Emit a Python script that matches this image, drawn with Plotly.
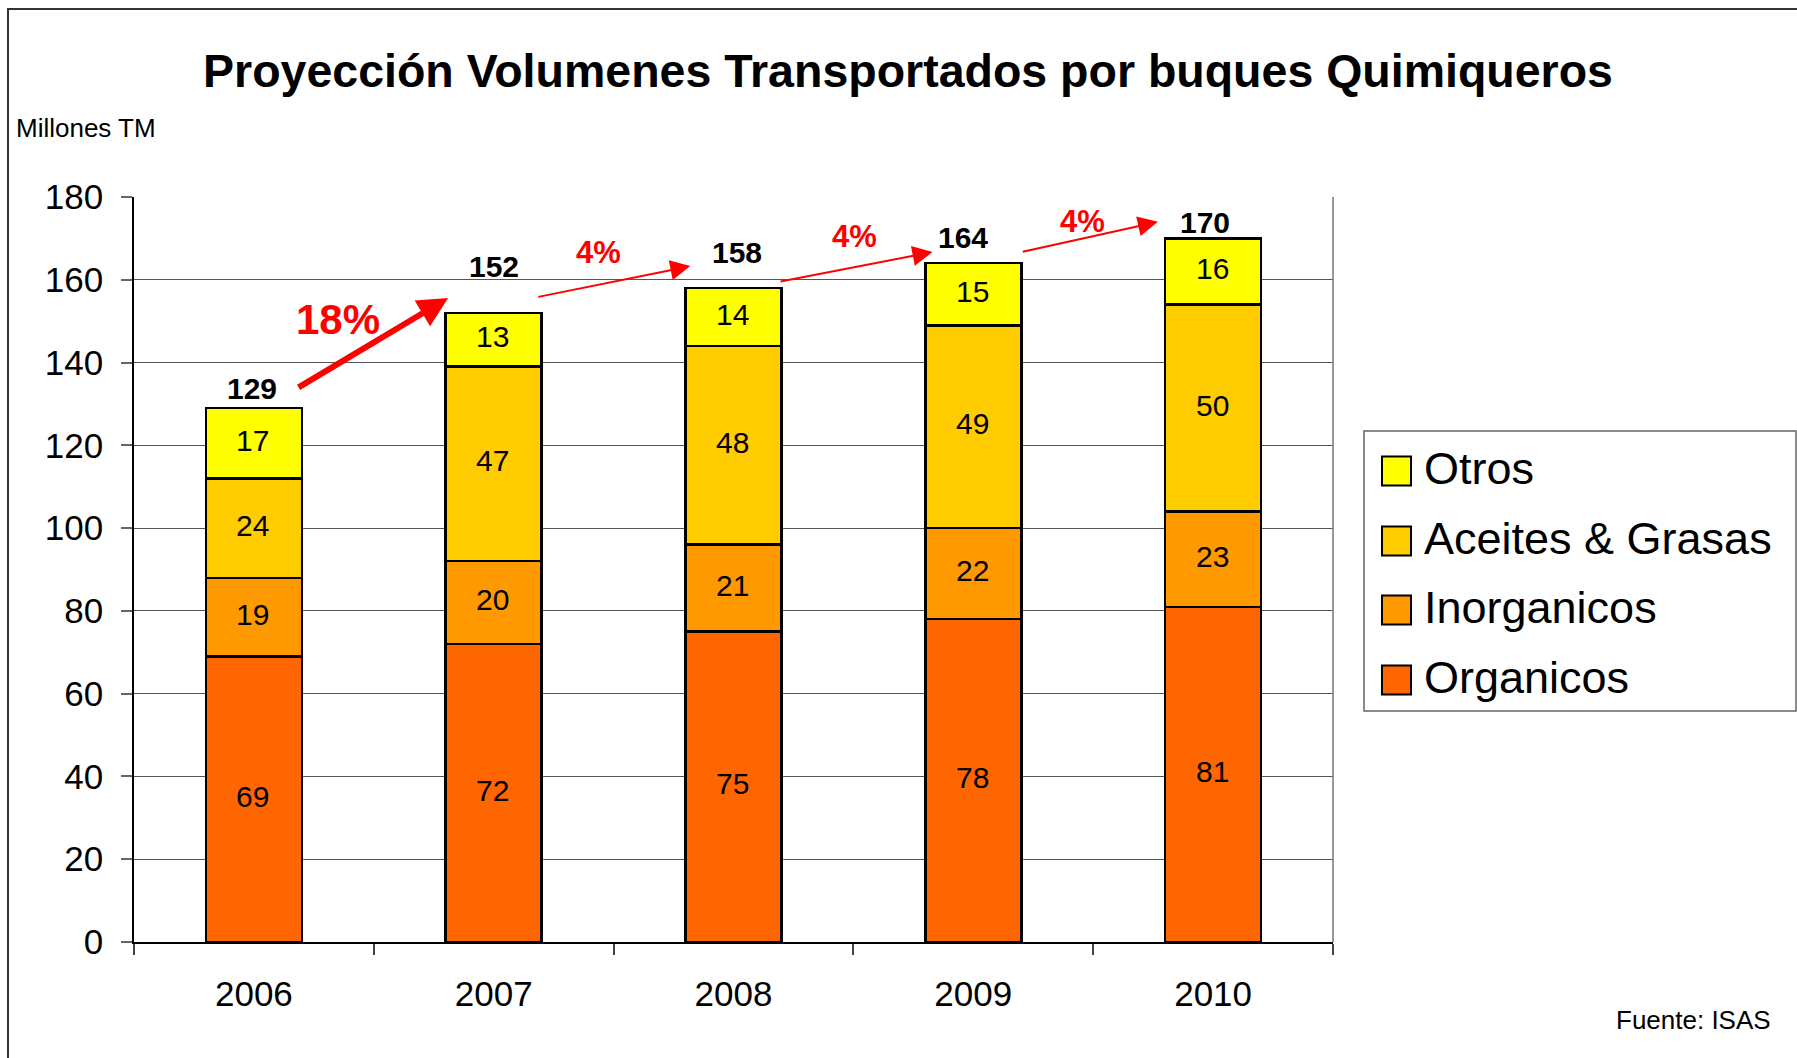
import plotly.graph_objects as go

# ---------------- data ----------------
years = ["2006", "2007", "2008", "2009", "2010"]
organicos = [69, 72, 75, 78, 81]
inorganicos = [19, 20, 21, 22, 23]
aceites = [24, 47, 48, 49, 50]
otros = [17, 13, 14, 15, 16]
totals = [129, 152, 158, 164, 170]
growth_labels = ["18%", "4%", "4%", "4%"]
y_ticks = [0, 20, 40, 60, 80, 100, 120, 140, 160, 180]
series_names = ["Organicos", "Inorganicos", "Aceites & Grasas", "Otros"]
series_values = [organicos, inorganicos, aceites, otros]

# ---------------- styles ----------------
FONT = "Liberation Sans, Arial, sans-serif"
colors = ["#FF6600", "#FF9900", "#FFCC00", "#FFFF00"]

W, H = 1797, 1058
L, R, T, B = 134, 1333, 197, 942   # plot area in pixels


def px(xp):
    return (xp - L) / (R - L)


def py(yp):
    return (B - yp) / (B - T)


fig = go.Figure()
for name, vals, col in zip(series_names, series_values, colors):
    fig.add_trace(go.Bar(
        x=years, y=vals, name=name,
        marker=dict(color=col, line=dict(color="black", width=2.5)),
        showlegend=False, hoverinfo="skip",
    ))

annotations = []
# segment value labels, centred in each stacked segment
base = [0] * len(years)
for vals in series_values:
    for i, v in enumerate(vals):
        annotations.append(dict(
            x=i, y=base[i] + v / 2, xref="x", yref="y", text=str(v), showarrow=False,
            yanchor="middle", xshift=-1, yshift=3,
            font=dict(family=FONT, size=30, color="black")))
        base[i] += v

# totals above bars
tot_xshift = [-2, 0, 3, -10, -8]
tot_yshift = [20, 46, 36, 26, 16]
for i, t in enumerate(totals):
    annotations.append(dict(
        x=i, y=t, xref="x", yref="y", text="<b>%d</b>" % t, showarrow=False,
        xshift=tot_xshift[i], yshift=tot_yshift[i], yanchor="middle",
        font=dict(family=FONT, size=30, color="black")))

# growth arrows
tail_dx = [0.18, 0.18, 0.19, 0.20]
tail_dy = [4.8, 3.8, 1.5, 2.7]
tip_dx = [-0.19, -0.18, -0.17, -0.23]
tip_dy = [3.6, 5.3, 2.7, 4.0]
arrow_w = [6, 2, 2, 2]
arrow_s = [1.0, 2.0, 2.0, 2.0]
lab_xshift = [-35, -15, -1, -7]
lab_yshift = [24, 29, 30, 15]
lab_size = [42, 31, 31, 31]
for i, g in enumerate(growth_labels):
    ax = i + tail_dx[i]
    ay = totals[i] + tail_dy[i]
    tx = i + 1 + tip_dx[i]
    ty = totals[i + 1] + tip_dy[i]
    annotations.append(dict(
        x=tx, y=ty, xref="x", yref="y", ax=ax, ay=ay, axref="x", ayref="y",
        text="", showarrow=True, arrowhead=2, arrowsize=arrow_s[i],
        arrowwidth=arrow_w[i], arrowcolor="#FF0000", standoff=0, startstandoff=0))
    annotations.append(dict(
        x=(ax + tx) / 2, y=(ay + ty) / 2, xref="x", yref="y",
        text="<b>%s</b>" % g, showarrow=False,
        xshift=lab_xshift[i], yshift=lab_yshift[i],
        font=dict(family=FONT, size=lab_size[i], color="#FF0000")))

# axis unit label and source
annotations.append(dict(x=px(14), y=py(128), xref="paper", yref="paper",
                        text="Millones TM", showarrow=False, xanchor="left", yanchor="middle",
                        font=dict(family=FONT, size=26, color="black")))
annotations.append(dict(x=px(1773), y=py(1020), xref="paper", yref="paper",
                        text="Fuente: ISAS", showarrow=False, xanchor="right", yanchor="middle",
                        font=dict(family=FONT, size=26, color="black")))

shapes = []
# outer chart border (left and top visible)
shapes.append(dict(type="rect", xref="paper", yref="paper",
                   x0=px(8), x1=px(2400), y0=py(2000), y1=py(9),
                   line=dict(color="#333333", width=2), fillcolor="rgba(0,0,0,0)"))
# right border of plot area (gray)
shapes.append(dict(type="line", xref="paper", yref="paper",
                   x0=1, x1=1, y0=0, y1=1, line=dict(color="#777777", width=1.5)))

# manual legend
shapes.append(dict(type="rect", xref="paper", yref="paper",
                   x0=px(1364), x1=px(1796), y0=py(711), y1=py(431),
                   line=dict(color="#666666", width=1.5), fillcolor="white"))
row_y = [471, 541, 610, 680]
legend_order = [3, 2, 1, 0]
for r, k in enumerate(legend_order):
    cy = row_y[r]
    shapes.append(dict(type="rect", xref="paper", yref="paper",
                       x0=px(1382), x1=px(1411), y0=py(cy + 14.5), y1=py(cy - 14.5),
                       line=dict(color="black", width=2), fillcolor=colors[k]))
    annotations.append(dict(x=px(1422), y=py(cy), xref="paper", yref="paper",
                            text=series_names[k], showarrow=False,
                            xanchor="left", yanchor="middle", yshift=3,
                            font=dict(family=FONT, size=45, color="black")))

fig.update_layout(
    width=W, height=H, autosize=False,
    margin=dict(l=L, r=W - R, t=T, b=H - B, pad=0),
    paper_bgcolor="white", plot_bgcolor="white",
    barmode="stack", bargap=0.6,
    title=dict(text="<b>Proyección Volumenes Transportados por buques Quimiqueros</b>",
               x=908 / W, xanchor="center", xref="container",
               y=1 - 71 / H, yanchor="middle",
               font=dict(family=FONT, size=46.5, color="black")),
    xaxis=dict(type="category", tickson="boundaries", ticks="outside", ticklen=11,
               tickcolor="#444", tickwidth=1.5, showline=True, linecolor="black",
               linewidth=2, showgrid=False, ticklabelstandoff=20,
               tickfont=dict(family=FONT, size=35, color="black")),
    yaxis=dict(range=[0, 180], tickvals=y_ticks, ticks="outside", ticklen=11,
               tickcolor="#666", tickwidth=1.5, showline=True, linecolor="black",
               linewidth=1.5, mirror=False, showgrid=True, gridcolor="#555",
               gridwidth=1, zeroline=False, ticklabelstandoff=11,
               tickfont=dict(family=FONT, size=35, color="black")),
    annotations=annotations, shapes=shapes,
    font=dict(family=FONT),
)

fig.write_html("out.html")
